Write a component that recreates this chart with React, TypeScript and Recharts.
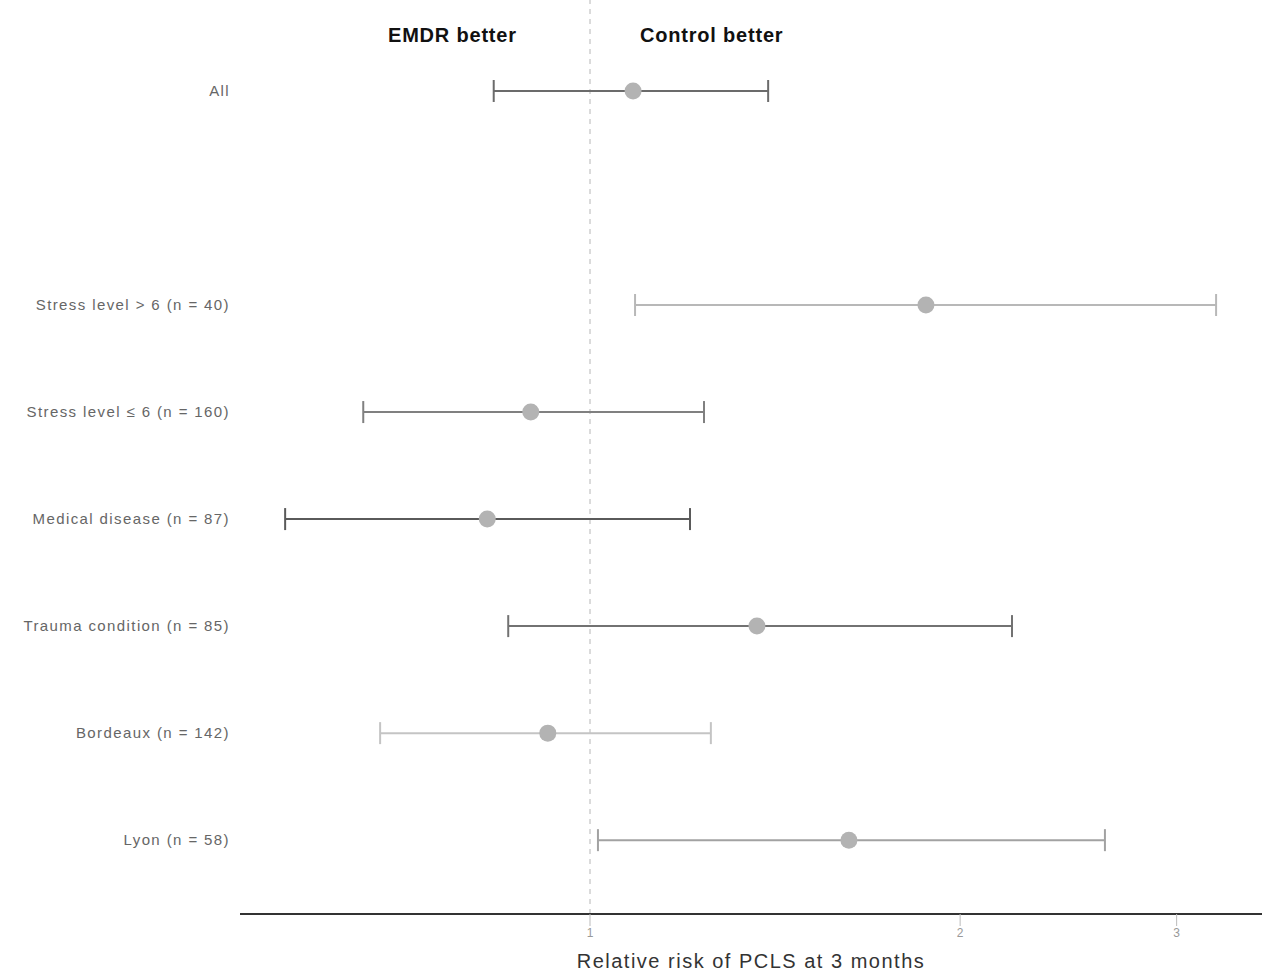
import { ErrorBar, ReferenceLine, Scatter, ScatterChart, XAxis, YAxis } from "recharts";

const groups = [
  "All",
  "Stress level > 6 (n = 40)",
  "Stress level ≤ 6 (n = 160)",
  "Medical disease (n = 87)",
  "Trauma condition (n = 85)",
  "Bordeaux (n = 142)",
  "Lyon (n = 58)",
];
// row slot of each group (slot 1 is left empty)
const rows = [0, 2, 3, 4, 5, 6, 7];
const estimate = [1.084, 1.876, 0.895, 0.825, 1.367, 0.924, 1.624];
const lower = [0.835, 1.088, 0.654, 0.565, 0.858, 0.675, 1.015];
const upper = [1.396, 3.23, 1.238, 1.206, 2.204, 1.254, 2.623];
const lineColors = ["#6b6b6b", "#b8b8b8", "#808080", "#5a5a5a", "#727272", "#c4c4c4", "#a2a2a2"];
const xTicks = [1, 2, 3];

const series = groups.map((name, i) => ({
  name,
  color: lineColors[i],
  data: [
    {
      rr: estimate[i],
      row: rows[i],
      err: [estimate[i] - lower[i], upper[i] - estimate[i]],
    },
  ],
}));

const labelByRow: Record<number, string> = {};
rows.forEach((r, i) => (labelByRow[r] = groups[i]));

function Dot(props: any) {
  const { cx, cy } = props;
  if (cx == null || cy == null) return null;
  return <circle cx={cx} cy={cy} r={8.5} fill="#b3b3b3" />;
}

const headStyle = { position: "absolute" as const, top: 24, fontSize: 20, color: "#111", fontWeight: 700, letterSpacing: 0.8 };

export default function App() {
  return (
    <div style={{ position: "absolute", left: 0, top: 0, width: 1280, height: 972, fontFamily: "Liberation Sans, Arial, sans-serif" }}>
      <ScatterChart width={1280} height={972} margin={{ top: 0, right: 18, bottom: 0, left: 0 }}>
        <XAxis
          type="number"
          dataKey="rr"
          scale="log"
          domain={[0.5192, 3.52]}
          allowDataOverflow
          ticks={xTicks}
          height={58}
          axisLine={{ stroke: "#333", strokeWidth: 2 }}
          tickLine={{ stroke: "#bbb" }}
          tickSize={12}
          tickMargin={2}
          tick={{ fontSize: 12, fill: "#999" }}
          label={{ value: "Relative risk of PCLS at 3 months", position: "insideBottom", offset: 4, fontSize: 20, fill: "#333", letterSpacing: 1.5 }}
        />
        <YAxis
          type="number"
          dataKey="row"
          reversed
          domain={[-0.85, 7.69]}
          allowDataOverflow
          ticks={rows}
          tickFormatter={(v: number) => labelByRow[v] ?? ""}
          width={240}
          axisLine={false}
          tickLine={false}
          tickMargin={4}
          tick={{ fontSize: 15, fill: "#666", letterSpacing: 1.4 }}
        />
        <ReferenceLine x={1} stroke="#cfcfcf" strokeDasharray="5 5" strokeWidth={1.5} />
        {series.map((s) => (
          <Scatter key={s.name} name={s.name} data={s.data} shape={<Dot />} isAnimationActive={false}>
            <ErrorBar dataKey="err" direction="x" width={11} stroke={s.color} strokeWidth={2} isAnimationActive={false} />
          </Scatter>
        ))}
      </ScatterChart>
      <div style={{ ...headStyle, left: 388 }}>EMDR better</div>
      <div style={{ ...headStyle, left: 640 }}>Control better</div>
    </div>
  );
}
